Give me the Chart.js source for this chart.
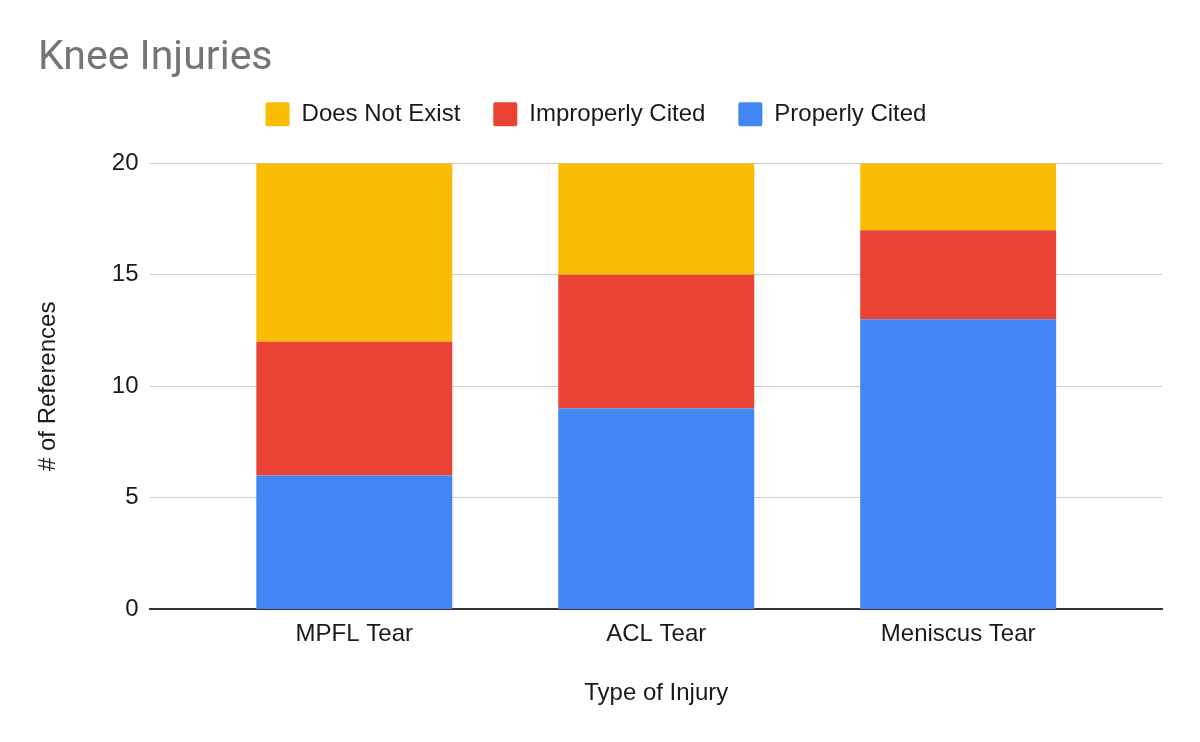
<!DOCTYPE html>
<html><head><meta charset="utf-8">
<script src="https://cdn.jsdelivr.net/npm/chart.js@4"></script>
<style>html,body{margin:0;padding:0;background:#fff}#wrap{width:1200px;height:742px}</style>
</head><body><div id="wrap"><canvas id="c"></canvas></div>
<script>
const categories = ["MPFL Tear", "ACL Tear", "Meniscus Tear"];
const properlyCited = [6, 9, 13];
const improperlyCited = [6, 6, 4];
const doesNotExist = [8, 5, 3];
const yTicks = [0, 5, 10, 15, 20];

const font = "'Liberation Sans', Arial, sans-serif";
const txt = '#1a1a1a';
const pts = arr => arr.map((v, i) => ({x: i, y: v}));
const layoutTweaks = {
  id: 'layoutTweaks',
  beforeInit(chart) {
    const orig = chart.legend.fit;
    chart.legend.fit = function () { orig.call(this); this.height += 27; };
  },
  afterLayout(chart) {
    chart.titleBlock.left += 8;
    chart.titleBlock.right += 8;
  }
};
new Chart(document.getElementById('c'), {
  type: 'bar',
  data: {
    datasets: [
      {label: 'Properly Cited', data: pts(properlyCited), backgroundColor: '#4285F4'},
      {label: 'Improperly Cited', data: pts(improperlyCited), backgroundColor: '#EA4335'},
      {label: 'Does Not Exist', data: pts(doesNotExist), backgroundColor: '#FBBC04'}
    ]
  },
  plugins: [layoutTweaks],
  options: {
    responsive: true, maintainAspectRatio: false, animation: false,
    layout: {padding: {left: 30, right: 38, top: 34, bottom: 34}},
    datasets: {bar: {categoryPercentage: 0.649, barPercentage: 1}},
    plugins: {
      title: {display: true, text: 'Knee Injuries', align: 'start', color: '#757575',
        font: {family: "Roboto, 'Liberation Sans', sans-serif", size: 41, weight: 'normal'},
        padding: {top: 0, bottom: -14}},
      legend: {reverse: true, labels: {boxWidth: 24, boxHeight: 24, padding: 33, color: txt,
        useBorderRadius: true, borderRadius: 2,
        font: {family: font, size: 24}}},
      tooltip: {enabled: false}
    },
    scales: {
      x: {type: 'linear', stacked: true, min: -0.675, max: 2.675, offset: false,
        afterBuildTicks: s => { s.ticks = categories.map((c, i) => ({value: i})); },
        grid: {display: false, drawTicks: false}, border: {color: '#333', width: 2},
        ticks: {color: txt, padding: 11, font: {family: font, size: 24},
          callback: v => categories[v]},
        title: {display: true, text: 'Type of Injury', color: txt, padding: {top: 19, bottom: 0}, font: {family: font, size: 24}}},
      y: {stacked: true, min: 0, max: 20,
        afterBuildTicks: s => { s.ticks = yTicks.map(v => ({value: v})); },
        grid: {color: '#cccccc', drawTicks: false}, border: {display: false},
        ticks: {color: txt, padding: 12, font: {family: font, size: 24}},
        title: {display: true, text: '# of References', color: txt, padding: {bottom: 37}, font: {family: font, size: 24}}}
    }
  }
});
</script></body></html>
